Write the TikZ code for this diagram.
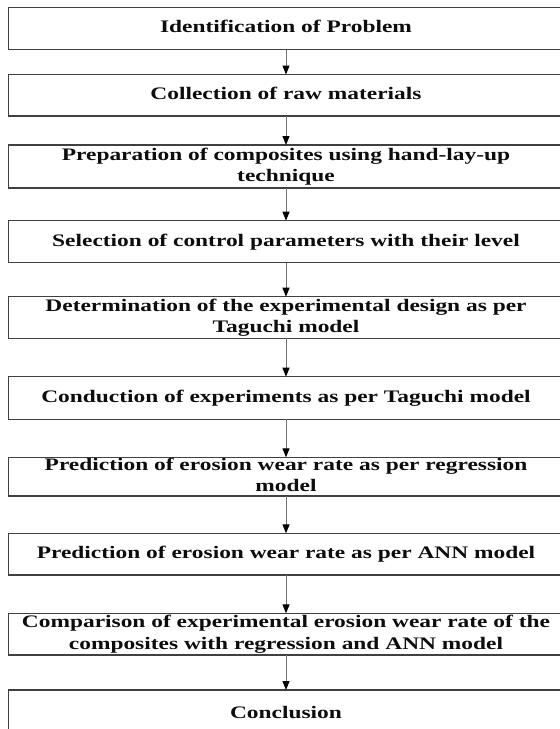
\documentclass[tikz,border=0pt]{standalone}
\usepackage{fontspec}
\usepackage{graphicx}
\setmainfont{Liberation Serif}
\usetikzlibrary{arrows.meta}
\newcommand\steptext[1]{\scalebox{1.33}[1]{\begin{tabular}{@{}c@{}}#1\end{tabular}}}
\begin{document}
\begin{tikzpicture}[x=1pt,y=-1pt,
  stepbox/.style={draw=black!75, line width=1.2pt, rectangle, outer sep=0pt, inner sep=0pt, minimum width=561.7pt},
  steplabel/.style={inner sep=0pt, outer sep=0pt, text=black!95, font=\fontsize{17.6}{21.5}\selectfont\bfseries},
  arr/.style={draw=black!55, line width=1pt, -{Triangle[width=7pt,length=9pt,color=black]}}]
\clip (0,0) rectangle (560,729);
\fill[white] (0,0) rectangle (560,729);
% boxes
\node[stepbox, minimum height=42.2pt] (b1) at (289.15,28.4) {};
\node[stepbox, minimum height=41.5pt] (b2) at (289.15,95.25) {};
\node[stepbox, minimum height=43pt] (b3) at (289.15,166.5) {};
\node[stepbox, minimum height=42pt] (b4) at (289.15,241.7) {};
\node[stepbox, minimum height=41.6pt] (b5) at (289.15,317.5) {};
\node[stepbox, minimum height=42.6pt] (b6) at (289.15,398) {};
\node[stepbox, minimum height=38.7pt] (b7) at (289.15,476.65) {};
\node[stepbox, minimum height=41.7pt] (b8) at (289.15,554.2) {};
\node[stepbox, minimum height=41.7pt] (b9) at (289.15,634.2) {};
\node[stepbox, minimum height=56pt] (b10) at (289.15,718) {};
% labels
\node[steplabel] (t1) at (286,28.4) {\steptext{Identification of Problem}};
\node[steplabel] (t2) at (286,95.25) {\steptext{Collection of raw materials}};
\node[steplabel] (t3) at (286,166.5) {\steptext{Preparation of composites using hand-lay-up\\technique}};
\node[steplabel] (t4) at (286,241.7) {\steptext{Selection of control parameters with their level}};
\node[steplabel] (t5) at (286,317.5) {\steptext{Determination of the experimental design as per\\Taguchi model}};
\node[steplabel] (t6) at (286,398) {\steptext{Conduction of experiments as per Taguchi model}};
\node[steplabel] (t7) at (286,476.65) {\steptext{Prediction of erosion wear rate as per regression\\model}};
\node[steplabel] (t8) at (286,554.2) {\steptext{Prediction of erosion wear rate as per ANN model}};
\node[steplabel] (t9) at (286,634.2) {\steptext{Comparison of experimental erosion wear rate of the\\composites with regression and ANN model}};
\node[steplabel] (t10) at (286,713.7) {\steptext{Conclusion}};
% arrows
\draw[arr] (t1 |- b1.south) -- (t2 |- b2.north);
\draw[arr] (t2 |- b2.south) -- (t3 |- b3.north);
\draw[arr] (t3 |- b3.south) -- (t4 |- b4.north);
\draw[arr] (t4 |- b4.south) -- (t5 |- b5.north);
\draw[arr] (t5 |- b5.south) -- (t6 |- b6.north);
\draw[arr] (t6 |- b6.south) -- (t7 |- b7.north);
\draw[arr] (t7 |- b7.south) -- (t8 |- b8.north);
\draw[arr] (t8 |- b8.south) -- (t9 |- b9.north);
\draw[arr] (t9 |- b9.south) -- (t10 |- b10.north);
\end{tikzpicture}
\end{document}
